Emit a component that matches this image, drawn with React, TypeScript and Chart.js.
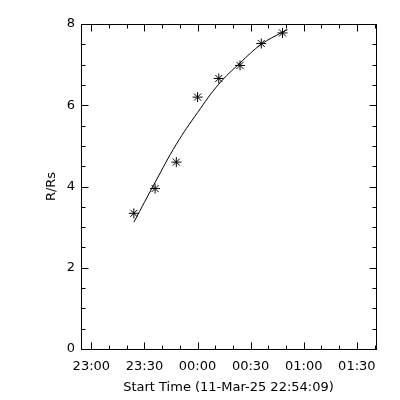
import React, { useEffect, useRef } from "react";
import { Chart, registerables } from "chart.js";

Chart.register(...registerables);

// Seconds after start time 11-Mar-25 22:54:09
const obsSeconds = [1791, 2511, 3231, 3951, 4671, 5391, 6111, 6831];
const obsR = [3.34, 3.95, 4.6, 6.2, 6.66, 6.98, 7.52, 7.78];
const fitSeconds = [1791, 2511, 3231, 3951, 4671, 5391, 6111, 6831, 7000];
const fitR = [3.12, 4.1, 5.04, 5.82, 6.52, 7.04, 7.5, 7.8, 7.86];

const xMin = 0;
const xMax = 10000;
const xMajorTicks = [351, 2151, 3951, 5751, 7551, 9351];
const xTickLabels = ["23:00", "23:30", "00:00", "00:30", "01:00", "01:30"];
const xMinorStep = 600;
const yMin = 0;
const yMax = 8;
const yMajorTicks = [0, 2, 4, 6, 8];
const yMinorStep = 0.5;

const FONT = { family: "DejaVu Sans", size: 13 };

const framePlugin = {
  id: "idlFrame",
  afterDatasetsDraw(chart: any) {
    const { ctx, chartArea, scales } = chart;
    const xs = scales.x;
    const ys = scales.y;
    const L = Math.round(chartArea.left) + 0.5;
    const R = Math.round(chartArea.right) + 0.5;
    const T = Math.round(chartArea.top) + 0.5;
    const B = Math.round(chartArea.bottom) + 0.5;
    ctx.save();
    ctx.strokeStyle = "#000";
    ctx.lineWidth = 1;
    ctx.strokeRect(L, T, R - L, B - T);
    ctx.beginPath();
    const xMinor: number[] = [];
    for (let v = xMajorTicks[0]; v <= xMax; v += xMinorStep) xMinor.push(v);
    xMinor.forEach((v) => {
      const major = xMajorTicks.includes(v);
      const len = major ? 7 : 4;
      const px = Math.round(xs.getPixelForValue(v)) + 0.5;
      ctx.moveTo(px, B);
      ctx.lineTo(px, B - len);
      ctx.moveTo(px, T);
      ctx.lineTo(px, T + len);
    });
    for (let v = yMin; v <= yMax + 1e-9; v += yMinorStep) {
      const major = yMajorTicks.includes(v);
      const len = major ? 7 : 4;
      const py = Math.round(ys.getPixelForValue(v)) + 0.5;
      ctx.moveTo(L, py);
      ctx.lineTo(L + len, py);
      ctx.moveTo(R, py);
      ctx.lineTo(R - len, py);
    }
    ctx.stroke();
    ctx.restore();
  },
};

export default function App() {
  const ref = useRef<HTMLCanvasElement>(null);
  useEffect(() => {
    if (!ref.current) return;
    const chart = new Chart(ref.current, {
      type: "scatter",
      data: {
        datasets: [
          {
            type: "line",
            data: fitSeconds.map((s, i) => ({ x: s, y: fitR[i] })),
            borderColor: "#000",
            borderWidth: 1,
            pointRadius: 0,
            tension: 0.4,
            fill: false,
          } as any,
          {
            type: "scatter",
            data: obsSeconds.map((s, i) => ({ x: s, y: obsR[i] })),
            pointStyle: "star",
            pointRadius: 5,
            borderColor: "#000",
            backgroundColor: "#000",
            borderWidth: 1,
          } as any,
        ],
      },
      options: {
        animation: false,
        responsive: false,
        maintainAspectRatio: false,
        layout: { padding: { left: 0, right: 24, top: 24, bottom: 0 } },
        plugins: { legend: { display: false }, tooltip: { enabled: false } },
        scales: {
          x: {
            type: "linear",
            min: xMin,
            max: xMax,
            grid: { display: false, drawTicks: false },
            border: { display: false },
            afterBuildTicks: (scale: any) => {
              scale.ticks = xMajorTicks.map((v) => ({ value: v }));
            },
            afterFit: (scale: any) => {
              scale.height = 51;
            },
            ticks: {
              color: "#000",
              font: FONT,
              padding: 10,
              maxRotation: 0,
              autoSkip: false,
              callback: (v: any) => {
                const i = xMajorTicks.indexOf(Number(v));
                return i >= 0 ? xTickLabels[i] : "";
              },
            },
            title: {
              display: true,
              text: "Start Time (11-Mar-25 22:54:09)",
              color: "#000",
              font: FONT,
              padding: { top: 0, bottom: 5 },
            },
          },
          y: {
            type: "linear",
            min: yMin,
            max: yMax,
            grid: { display: false, drawTicks: false },
            border: { display: false },
            afterBuildTicks: (scale: any) => {
              scale.ticks = yMajorTicks.map((v) => ({ value: v }));
            },
            afterFit: (scale: any) => {
              scale.width = 81;
            },
            ticks: {
              color: "#000",
              font: FONT,
              padding: 6,
              callback: (v: any) => String(v),
            },
            title: {
              display: true,
              text: "R/Rs",
              color: "#000",
              font: FONT,
              padding: { top: 44, bottom: 0 },
            },
          },
        },
      },
      plugins: [framePlugin],
    });
    return () => chart.destroy();
  }, []);
  return (
    <div style={{ position: "fixed", left: 0, top: 0, width: 400, height: 400, background: "#fff" }}>
      <canvas ref={ref} width={400} height={400} />
    </div>
  );
}
